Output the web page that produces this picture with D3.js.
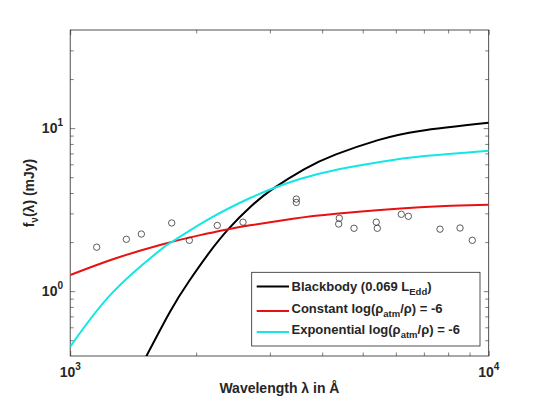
<!DOCTYPE html>
<html>
<head>
<meta charset="utf-8">
<script src="https://cdn.jsdelivr.net/npm/d3@7"></script>
<style>
  body { margin: 0; background: #fff; }
  text { font-family: "Liberation Sans", Arial, Helvetica, sans-serif; font-weight: bold; fill: #262626; }
</style>
</head>
<body>
<svg id="chart" width="540" height="400"></svg>
<script>
// observed photometry (circles)
const obsWave = [1157, 1362, 1479, 1748, 1926, 2246, 2588, 3470, 3470, 4395, 4381, 4766, 5387, 5418, 6182, 6427, 7649, 8541, 9137];
const obsFlux = [1.86, 2.08, 2.24, 2.62, 2.05, 2.53, 2.65, 3.67, 3.50, 2.80, 2.58, 2.43, 2.65, 2.43, 2.96, 2.88, 2.40, 2.44, 2.05];

// model curves
const bbWave = [1469, 1732, 1926, 2147, 2396, 2697, 3036, 3620, 4316, 5439, 6853, 10000];
const bbFlux = [0.337, 0.748, 1.158, 1.716, 2.425, 3.29, 4.207, 5.588, 6.897, 8.441, 9.612, 10.78];

const constWave = [1000, 1265, 1639, 2043, 2396, 2690, 3407, 4316, 6853, 10000];
const constFlux = [1.255, 1.569, 1.92, 2.206, 2.401, 2.533, 2.782, 2.985, 3.272, 3.394];

const expWave = [1000, 1265, 1639, 1763, 2158, 2690, 3036, 3541, 4413, 5580, 6853, 10000];
const expFlux = [0.456, 0.986, 1.78, 2.029, 2.793, 3.726, 4.251, 4.872, 5.612, 6.24, 6.696, 7.267];

const series = [
  { name: 'bb', wave: bbWave, flux: bbFlux, color: '#000000' },
  { name: 'const', wave: constWave, flux: constFlux, color: '#e81010' },
  { name: 'exp', wave: expWave, flux: expFlux, color: '#12e6e6' }
];

const xMajor = [1000, 10000];
const xMinor = [2000, 3000, 4000, 5000, 6000, 7000, 8000, 9000];
const yMajor = [1, 10];
const yMinor = [0.5, 0.6, 0.7, 0.8, 0.9, 2, 3, 4, 5, 6, 7, 8, 9, 20, 30];

const box = { left: 70.2, right: 488.7, top: 30, bottom: 356 };

const svg = d3.select('#chart');
svg.append('rect').attr('width', 540).attr('height', 400).attr('fill', '#fff');

const x = d3.scaleLog().domain([1000, 10000]).range([box.left, box.right]);
const y = d3.scaleLog().domain([0.4, 40]).range([box.bottom, box.top]);

svg.append('clipPath').attr('id', 'plotclip')
  .append('rect')
  .attr('x', box.left).attr('y', box.top)
  .attr('width', box.right - box.left).attr('height', box.bottom - box.top);

// ticks (inward, on all four sides)
function tickAxis(axisFn, scale, values, size, transform) {
  const g = svg.append('g')
    .attr('transform', transform)
    .call(axisFn(scale).tickValues(values).tickSize(-size).tickFormat(''));
  g.select('.domain').remove();
  g.selectAll('line').attr('stroke', '#262626').attr('stroke-width', 0.6);
}
tickAxis(d3.axisBottom, x, xMajor, 5, `translate(0,${box.bottom})`);
tickAxis(d3.axisBottom, x, xMinor, 3.5, `translate(0,${box.bottom})`);
tickAxis(d3.axisTop, x, xMajor, 5, `translate(0,${box.top})`);
tickAxis(d3.axisTop, x, xMinor, 3.5, `translate(0,${box.top})`);
tickAxis(d3.axisLeft, y, yMajor, 5, `translate(${box.left},0)`);
tickAxis(d3.axisLeft, y, yMinor, 3.5, `translate(${box.left},0)`);
tickAxis(d3.axisRight, y, yMajor, 5, `translate(${box.right},0)`);
tickAxis(d3.axisRight, y, yMinor, 3.5, `translate(${box.right},0)`);

// frame
svg.append('rect')
  .attr('x', box.left).attr('y', box.top)
  .attr('width', box.right - box.left).attr('height', box.bottom - box.top)
  .attr('fill', 'none').attr('stroke', '#262626').attr('stroke-width', 0.8);

// tick labels, 10^n
xMajor.forEach(v => {
  const t = svg.append('text')
    .attr('x', x(v)).attr('y', 377)
    .attr('text-anchor', 'middle')
    .style('font-size', '14px');
  t.append('tspan').text('10');
  t.append('tspan').attr('dy', -7).style('font-size', '10px').text(Math.round(Math.log10(v)));
});
yMajor.forEach(v => {
  const t = svg.append('text')
    .attr('x', 63).attr('y', y(v) + 5)
    .attr('text-anchor', 'end')
    .style('font-size', '14px');
  t.append('tspan').text('10');
  t.append('tspan').attr('dy', -7).style('font-size', '10px').text(Math.round(Math.log10(v)));
});

// axis labels
svg.append('text')
  .attr('x', (box.left + box.right) / 2).attr('y', 393)
  .attr('text-anchor', 'middle')
  .style('font-size', '14px')
  .text('Wavelength \u03bb in \u00c5');

const yl = svg.append('text')
  .attr('transform', `translate(34,${(box.top + box.bottom) / 2}) rotate(-90)`)
  .attr('text-anchor', 'middle')
  .style('font-size', '14px');
yl.append('tspan').text('f');
yl.append('tspan').attr('dy', 4).style('font-size', '10px').text('\u03bd');
yl.append('tspan').attr('dy', -4).text('(\u03bb) (mJy)');

// curves
const line = d3.line()
  .x(d => x(d[0]))
  .y(d => y(d[1]))
  .curve(d3.curveNatural);

const plot = svg.append('g').attr('clip-path', 'url(#plotclip)');

plot.selectAll('path.model')
  .data(series)
  .join('path')
  .attr('class', 'model')
  .attr('d', s => line(d3.zip(s.wave, s.flux)))
  .attr('fill', 'none')
  .attr('stroke', s => s.color)
  .attr('stroke-width', 2);

plot.selectAll('circle.obs')
  .data(d3.zip(obsWave, obsFlux))
  .join('circle')
  .attr('class', 'obs')
  .attr('cx', d => x(d[0]))
  .attr('cy', d => y(d[1]))
  .attr('r', 3.2)
  .attr('fill', 'none')
  .attr('stroke', '#333')
  .attr('stroke-width', 0.8);

// legend
const leg = svg.append('g');
leg.append('rect')
  .attr('x', 251.7).attr('y', 272.3)
  .attr('width', 228.3).attr('height', 73.7)
  .attr('fill', '#fff').attr('stroke', '#262626').attr('stroke-width', 0.8);

const legendRows = [
  { color: series[0].color, ly: 286.5, ty: 290.5, parts: [['Blackbody (0.069 L', 0], ['Edd', 1], [')', 0]] },
  { color: series[1].color, ly: 311, ty: 312.5, parts: [['Constant log(\u03c1', 0], ['atm', 1], ['/\u03c1) = -6', 0]] },
  { color: series[2].color, ly: 332, ty: 333.5, parts: [['Exponential log(\u03c1', 0], ['atm', 1], ['/\u03c1) = -6', 0]] }
];

legendRows.forEach(r => {
  leg.append('line')
    .attr('x1', 256.7).attr('x2', 289)
    .attr('y1', r.ly).attr('y2', r.ly)
    .attr('stroke', r.color).attr('stroke-width', 2);
  const t = leg.append('text')
    .attr('x', 291.5).attr('y', r.ty)
    .style('font-size', '13px');
  let shifted = false;
  r.parts.forEach(([str, sub]) => {
    const ts = t.append('tspan').text(str);
    if (sub) { ts.attr('dy', 4).style('font-size', '9.5px'); shifted = true; }
    else if (shifted) { ts.attr('dy', -4); shifted = false; }
  });
});
</script>
</body>
</html>
